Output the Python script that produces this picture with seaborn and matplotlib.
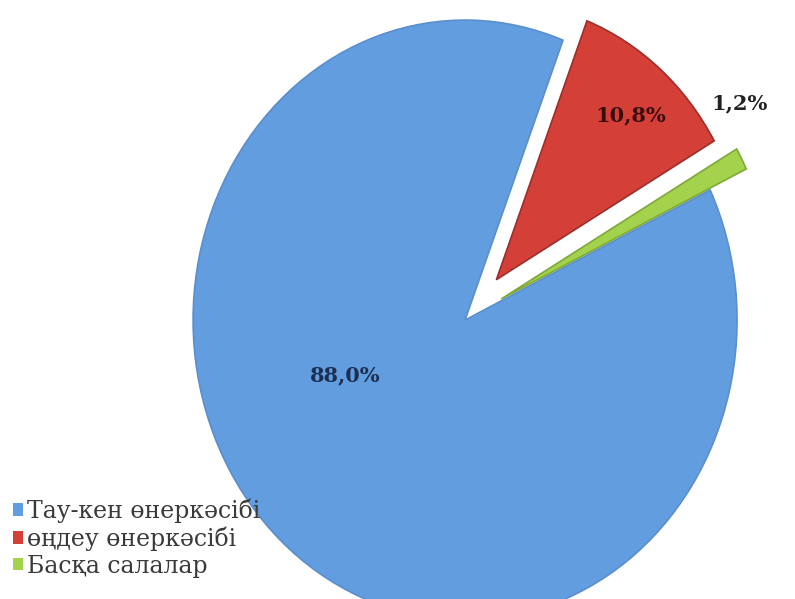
"""Pie chart of industry shares (Kazakh labels) — headless Agg backend."""

import matplotlib

matplotlib.use("Agg")

import matplotlib.pyplot as plt
import seaborn as sns
from matplotlib.patches import Patch

# Data
categories = ["Тау-кен өнеркәсібі", "өңдеу өнеркәсібі", "Басқа салалар"]
shares = [88.0, 10.8, 1.2]
share_labels = ["88,0%", "10,8%", "1,2%"]

COLORS = ["#629de0", "#d43f38", "#a3d34c"]
EDGES = ["#5a8fcc", "#9c2f2b", "#7fa83a"]
LABEL_COLORS = ["#1c2f52", "#3a0d0d", "#222222"]

sns.set_theme(style="white")
plt.rcParams["font.family"] = ["DejaVu Serif", "DejaVu Sans"]

fig = plt.figure(figsize=(7.95, 5.99), dpi=100)
ax = fig.add_axes([0, 0, 1, 1])

wedges, _ = ax.pie(
    shares,
    colors=COLORS,
    explode=[0.0, 0.177, 0.15],
    startangle=25.7,
    counterclock=False,
    wedgeprops={"linewidth": 1.2},
)
for w, ec in zip(wedges, EDGES):
    w.set_edgecolor(ec)
# the exploded red slice is drawn a bit smaller
wedges[1].set_radius(0.925)

# stretch the pie into a tall ellipse
ax.set_aspect("auto")
ax.set_xlim(-1.71, 1.213)
ax.set_ylim(-0.93, 1.067)
ax.axis("off")

# percentage labels (data coordinates of the text anchors)
label_pos = [(-0.441, -0.183), (0.61, 0.683), (1.011, 0.723)]
for (x, y), txt, c in zip(label_pos, share_labels, LABEL_COLORS):
    ax.text(x, y, txt, ha="center", va="center", fontsize=15,
            fontweight="bold", color=c)

handles = [Patch(facecolor=c, edgecolor="none") for c in COLORS]
fig.legend(
    handles,
    categories,
    loc="lower left",
    bbox_to_anchor=(0.01, 0.028),
    borderaxespad=0,
    borderpad=0.2,
    frameon=False,
    fontsize=17,
    handlelength=0.45,
    handleheight=0.45,
    handletextpad=0.15,
    labelspacing=0.15,
    labelcolor="#3a3a3a",
)

fig.savefig("out.png", dpi=100)
plt.close(fig)
